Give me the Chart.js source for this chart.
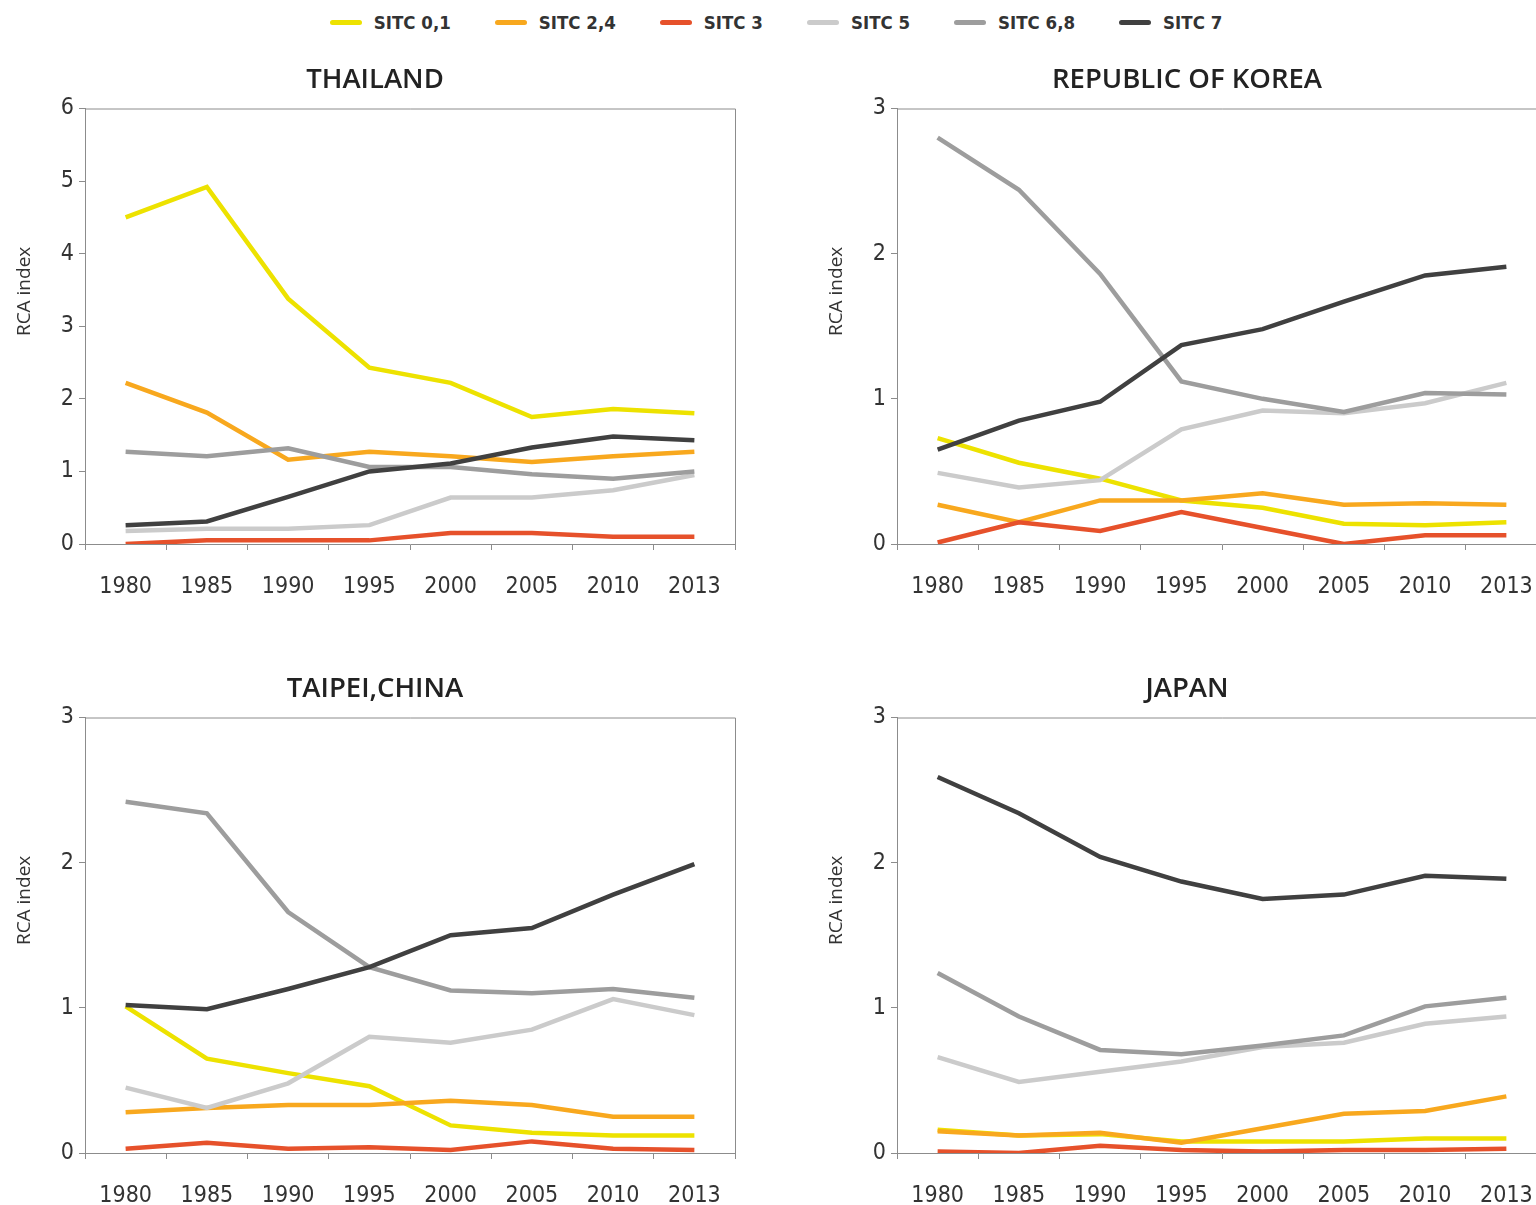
<!DOCTYPE html>
<html>
<head>
<meta charset="utf-8">
<script src="https://cdn.jsdelivr.net/npm/chart.js@4.4.1/dist/chart.umd.min.js"></script>
<style>
  html, body { margin: 0; padding: 0; background: #fff; width: 1536px; height: 1205px; overflow: hidden; position: relative; }
  .panel { position: absolute; width: 745px; height: 560px; }
  #legend { position: absolute; top: 12px; left: 0; width: 1552px; display: flex; justify-content: center; gap: 44px;
            font-family: "DejaVu Sans Condensed", "Noto Sans", sans-serif; font-size: 18.5px; font-weight: bold; color: #333; }
  .item { display: flex; align-items: center; gap: 12px; }
  .swatch { width: 32px; height: 5px; border-radius: 3px; }
</style>
</head>
<body>
<div id="legend"></div>
<div class="panel" style="left:0; top:50px;"><canvas id="c0"></canvas></div>
<div class="panel" style="left:812px; top:50px;"><canvas id="c1"></canvas></div>
<div class="panel" style="left:0; top:659px;"><canvas id="c2"></canvas></div>
<div class="panel" style="left:812px; top:659px;"><canvas id="c3"></canvas></div>
<script>
// ---------- data ----------
const years = ['1980', '1985', '1990', '1995', '2000', '2005', '2010', '2013'];
const seriesNames = ['SITC 0,1', 'SITC 2,4', 'SITC 3', 'SITC 5', 'SITC 6,8', 'SITC 7'];
const seriesColors = ['#ede200', '#f8a81e', '#e6512b', '#cbcbcb', '#9d9d9d', '#404040'];

// THAILAND
const thailand = [
  [4.50, 4.92, 3.38, 2.43, 2.22, 1.75, 1.86, 1.80],
  [2.22, 1.81, 1.16, 1.27, 1.21, 1.13, 1.21, 1.27],
  [0.00, 0.05, 0.05, 0.05, 0.15, 0.15, 0.10, 0.10],
  [0.18, 0.21, 0.21, 0.26, 0.64, 0.64, 0.74, 0.95],
  [1.27, 1.21, 1.32, 1.06, 1.06, 0.96, 0.90, 1.00],
  [0.26, 0.31, 0.65, 1.00, 1.11, 1.33, 1.48, 1.43]
];
// REPUBLIC OF KOREA
const korea = [
  [0.73, 0.56, 0.45, 0.30, 0.25, 0.14, 0.13, 0.15],
  [0.27, 0.15, 0.30, 0.30, 0.35, 0.27, 0.28, 0.27],
  [0.01, 0.15, 0.09, 0.22, 0.11, 0.00, 0.06, 0.06],
  [0.49, 0.39, 0.44, 0.79, 0.92, 0.90, 0.97, 1.11],
  [2.80, 2.44, 1.86, 1.12, 1.00, 0.91, 1.04, 1.03],
  [0.65, 0.85, 0.98, 1.37, 1.48, 1.67, 1.85, 1.91]
];
// TAIPEI,CHINA
const taipei = [
  [1.01, 0.65, 0.55, 0.46, 0.19, 0.14, 0.12, 0.12],
  [0.28, 0.31, 0.33, 0.33, 0.36, 0.33, 0.25, 0.25],
  [0.03, 0.07, 0.03, 0.04, 0.02, 0.08, 0.03, 0.02],
  [0.45, 0.31, 0.48, 0.80, 0.76, 0.85, 1.06, 0.95],
  [2.42, 2.34, 1.66, 1.28, 1.12, 1.10, 1.13, 1.07],
  [1.02, 0.99, 1.13, 1.28, 1.50, 1.55, 1.78, 1.99]
];
// JAPAN
const japan = [
  [0.16, 0.12, 0.13, 0.08, 0.08, 0.08, 0.10, 0.10],
  [0.15, 0.12, 0.14, 0.07, 0.17, 0.27, 0.29, 0.39],
  [0.01, 0.00, 0.05, 0.02, 0.01, 0.02, 0.02, 0.03],
  [0.66, 0.49, 0.56, 0.63, 0.73, 0.76, 0.89, 0.94],
  [1.24, 0.94, 0.71, 0.68, 0.74, 0.81, 1.01, 1.07],
  [2.59, 2.34, 2.04, 1.87, 1.75, 1.78, 1.91, 1.89]
];

const panels = [
  { id: 'c0', title: 'THAILAND', data: thailand, max: 6 },
  { id: 'c1', title: 'REPUBLIC OF KOREA', data: korea, max: 3 },
  { id: 'c2', title: 'TAIPEI,CHINA', data: taipei, max: 3 },
  { id: 'c3', title: 'JAPAN', data: japan, max: 3 }
];

// ---------- legend (html) ----------
const legendEl = document.getElementById('legend');
seriesNames.forEach((name, i) => {
  const item = document.createElement('div');
  item.className = 'item';
  item.innerHTML = `<span class="swatch" style="background:${seriesColors[i]}"></span><span>${name}</span>`;
  legendEl.appendChild(item);
});

// ---------- frame plugin: top + right border, y axis label ----------
const axisColor = '#8c8c8c';
const framePlugin = {
  id: 'frame',
  afterDraw(chart) {
    const { ctx, chartArea: a } = chart;
    ctx.save();
    ctx.strokeStyle = axisColor;
    ctx.lineWidth = 1;
    ctx.beginPath();
    ctx.moveTo(a.left, a.top + 0.5);
    ctx.lineTo(a.right + 0.5, a.top + 0.5);
    ctx.lineTo(a.right + 0.5, a.bottom);
    ctx.stroke();

    // "RCA index" sits a bit above the middle of the axis
    ctx.translate(25, a.top + (a.bottom - a.top) * 0.42);
    ctx.rotate(-Math.PI / 2);
    ctx.fillStyle = '#333';
    ctx.font = '19px "Open Sans", "Noto Sans", sans-serif';
    ctx.textAlign = 'center';
    ctx.textBaseline = 'middle';
    ctx.fillText('RCA index', 0, 0);
    ctx.restore();
  }
};

const tickFont = { family: '"DejaVu Sans Condensed", "Liberation Sans Narrow", "Noto Sans", sans-serif', size: 23 };

panels.forEach(p => {
  new Chart(document.getElementById(p.id), {
    type: 'line',
    data: {
      labels: years,
      datasets: p.data.map((vals, i) => ({
        label: seriesNames[i],
        data: vals,
        borderColor: seriesColors[i],
        backgroundColor: seriesColors[i],
        borderWidth: 4.5,
        pointRadius: 0,
        tension: 0,
        order: -i
      }))
    },
    options: {
      responsive: true,
      maintainAspectRatio: false,
      animation: false,
      layout: { padding: { right: 10, left: 15, top: 0, bottom: 0 } },
      plugins: {
        legend: { display: false },
        tooltip: { enabled: false },
        title: {
          display: true,
          text: p.title,
          color: '#222',
          font: { family: '"Open Sans", "Noto Sans", sans-serif', size: 27.5, weight: '600' },
          padding: { top: 13.5, bottom: 12 }
        }
      },
      scales: {
        x: {
          offset: true,
          grid: { offset: true, drawOnChartArea: false, tickLength: 6, color: axisColor },
          border: { color: axisColor },
          ticks: { color: '#333', font: tickFont, padding: 23, maxRotation: 0 },
          afterFit(scale) { scale.height = 66; }
        },
        y: {
          min: 0,
          max: p.max,
          grid: { drawOnChartArea: false, tickLength: 6, color: axisColor },
          border: { color: axisColor },
          ticks: { stepSize: 1, color: '#333', font: tickFont, padding: 5 },
          afterFit(scale) { scale.width = 70; }
        }
      }
    },
    plugins: [framePlugin]
  });
});
</script>
</body>
</html>
